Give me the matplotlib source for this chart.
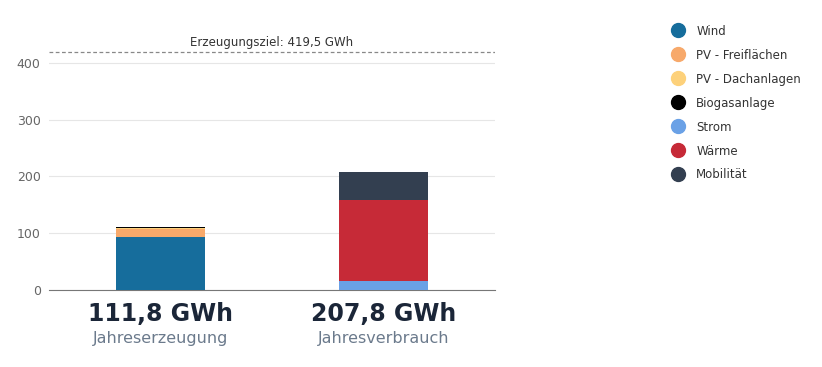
import matplotlib.pyplot as plt
from matplotlib.lines import Line2D

# Werte in GWh
kategorien = ['Jahreserzeugung', 'Jahresverbrauch']
summen = ['111,8 GWh', '207,8 GWh']

erzeugung_namen = ['Wind', 'PV - Freiflächen', 'PV - Dachanlagen', 'Biogasanlage']
erzeugung_werte = [94.0, 14.0, 0.5, 3.3]
erzeugung_farben = ['#166d9c', '#f7a96b', '#fdd17a', '#000000']

verbrauch_namen = ['Strom', 'Wärme', 'Mobilität']
verbrauch_werte = [16.0, 142.5, 49.3]
verbrauch_farben = ['#6aa1e6', '#c62a37', '#333f50']

ziel = 419.5
ziel_text = 'Erzeugungsziel: 419,5 GWh'

fig = plt.figure(figsize=(8.22, 3.67), dpi=100)
ax = fig.add_axes([49/822, 1 - 290/367, 446/822, 255.4/367])

breite = 0.4
unten = 0
for wert, farbe in zip(erzeugung_werte, erzeugung_farben):
    ax.bar(0, wert, breite, bottom=unten, color=farbe, zorder=3)
    unten += wert
unten = 0
for wert, farbe in zip(verbrauch_werte, verbrauch_farben):
    ax.bar(1, wert, breite, bottom=unten, color=farbe, zorder=3)
    unten += wert

ax.axhline(ziel, color='#888888', linestyle=(0, (3, 2)), linewidth=0.9, zorder=2)
ax.text(0.5, ziel + 6, ziel_text, ha='center', va='bottom', fontsize=8.5, color='#333333')

ax.set_xlim(-0.5, 1.5)
ax.set_ylim(0, 450)
ax.set_yticks([0, 100, 200, 300, 400])
ax.grid(axis='y', color='#e6e6e6', linewidth=0.8, zorder=0)
ax.set_xticks([])
for s in ['top', 'right', 'left']:
    ax.spines[s].set_visible(False)
ax.spines['bottom'].set_color('#777777')
ax.tick_params(axis='y', length=0, labelsize=9, labelcolor='#666666', pad=6)

for i in range(2):
    ax.text(i, -42.3, summen[i], ha='center', va='center', fontsize=17, fontweight='bold',
            color='#1b2638', clip_on=False)
    ax.text(i, -86.3, kategorien[i], ha='center', va='center', fontsize=11.5,
            color='#6b7a8c', clip_on=False)

namen = erzeugung_namen + verbrauch_namen
farben = erzeugung_farben + verbrauch_farben
griffe = [Line2D([], [], marker='o', linestyle='none', markersize=10, color=f) for f in farben]
fig.legend(griffe, namen, loc='upper left', bbox_to_anchor=(656/822, 1 - 14/367), frameon=False,
           fontsize=8.5, labelcolor='#333333', handletextpad=0.5, labelspacing=0.93)

fig.savefig('out.png', dpi=100)
